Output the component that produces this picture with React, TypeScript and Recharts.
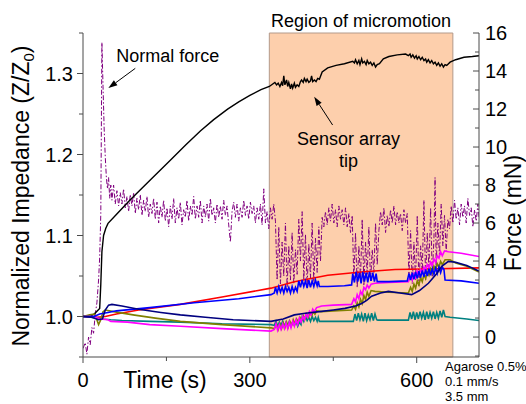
import React from "react";
import { LineChart, Line, XAxis, YAxis, ReferenceArea, ReferenceLine } from "recharts";

type Pt = [number, number];

// axis ticks (minor ticks are drawn without a label)
const timeTicks = [0, 150, 300, 450, 600];
const timeLabeled = [0, 300, 600];
const impTicks = [0.95, 1.0, 1.05, 1.1, 1.15, 1.2, 1.25, 1.3, 1.35];
const impLabeled = [1.0, 1.1, 1.2, 1.3];
const forceTicks = [-1, 0, 1, 2, 3, 4, 5, 6, 7, 8, 9, 10, 11, 12, 13, 14, 15, 16];
const forceLabeled = [0, 2, 4, 6, 8, 10, 12, 14, 16];

const regionStart = 335;
const regionEnd = 665;

// normal force (mN), right axis
const normalForce: Pt[] = [
  [0, -0.6], [4, -0.3], [7, -0.9], [10, 0.0], [13, -0.4], [16, 0.5], [19, 0.2], [22, 1.2], [25, 1.8], [28, 3.0], [30, 4.2], [32, 6.5],
  [34, 15.5], [36, 13.2], [38, 11.0], [40, 9.5], [42, 8.4], [44, 7.8], [46, 8.4], [48, 7.3], [50, 8.0],
  [52, 7.2], [55, 8.0], [58, 7.0], [61, 7.7], [64, 6.9], [67, 7.6], [70, 7.0], [73, 7.8], [76, 6.8], [79, 7.4], [82, 6.6], [85, 7.5],
  [88, 6.9], [91, 7.6], [94, 6.5], [97, 7.3], [100, 6.7], [103, 7.5], [106, 6.4], [109, 7.2], [112, 6.6], [115, 7.4], [118, 6.3],
  [121, 7.0], [124, 6.5], [127, 7.3], [130, 6.2], [133, 7.1], [136, 6.0], [139, 6.9], [142, 6.3], [145, 7.2], [148, 6.1], [151, 6.8],
  [154, 5.8], [157, 6.9], [160, 6.2], [163, 7.3], [166, 6.0], [169, 6.8], [172, 6.2], [175, 7.1], [178, 5.9], [181, 6.7], [184, 6.3],
  [187, 7.2], [190, 6.1], [193, 6.9], [196, 6.4], [199, 7.4], [202, 6.2], [205, 6.9], [208, 6.3], [211, 7.2], [214, 6.0], [217, 6.9],
  [220, 6.3], [223, 7.0], [226, 6.1], [229, 7.3], [232, 6.4], [235, 6.8], [238, 6.0], [241, 7.0], [244, 6.3], [247, 6.9], [250, 6.2],
  [253, 7.2], [256, 6.4], [259, 6.9], [262, 5.9], [265, 5.0], [268, 6.6], [271, 7.1], [274, 6.3], [277, 7.0], [280, 6.1], [283, 6.8],
  [286, 6.3], [289, 7.2], [292, 6.4], [295, 6.9], [298, 6.2], [301, 7.1], [304, 6.5], [307, 6.9], [310, 6.0], [313, 6.8], [316, 6.2],
  [319, 7.0], [322, 5.9], [325, 7.8], [328, 6.0], [331, 6.6], [334, 5.7], [337, 6.8], [340, 6.2], [343, 7.0], [346, 6.1],
  [349, 3.0], [352, 5.8], [355, 2.8], [358, 5.0], [361, 3.2], [364, 6.0], [367, 2.6], [370, 4.8], [373, 3.0], [376, 5.5], [379, 2.8],
  [382, 4.6], [385, 3.3], [388, 6.2], [391, 4.0], [394, 6.6], [397, 3.0], [400, 5.4], [403, 2.7], [406, 4.9], [409, 3.1], [412, 6.0],
  [415, 2.9], [418, 5.2], [421, 3.4], [424, 5.8], [427, 4.0], [430, 6.3],
  [433, 5.8], [436, 6.6], [439, 5.9], [442, 6.8], [445, 6.1], [448, 7.0], [451, 6.0], [454, 6.7], [457, 5.8], [460, 6.9], [463, 6.2],
  [466, 6.7], [469, 5.9], [472, 6.8], [475, 5.8], [478, 6.5], [481, 5.5], [484, 6.4],
  [487, 3.0], [490, 5.5], [493, 2.6], [496, 4.8], [499, 3.1], [502, 6.2], [505, 2.7], [508, 5.0], [511, 3.3], [514, 5.8], [517, 2.9],
  [520, 4.6], [523, 3.4], [526, 6.0], [529, 3.8], [532, 5.6],
  [535, 6.6], [538, 5.9], [541, 6.8], [544, 5.5], [547, 6.4], [550, 5.8], [553, 6.7], [556, 6.0], [559, 6.9], [562, 5.9], [565, 6.6],
  [568, 6.0], [571, 6.5], [574, 5.6], [577, 6.7], [580, 6.0], [583, 6.5],
  [586, 3.2], [589, 5.6], [592, 2.8], [595, 5.0], [598, 3.0], [601, 6.4], [604, 2.7], [607, 4.8], [610, 3.4], [613, 7.2], [616, 3.0],
  [619, 5.5], [622, 3.6], [625, 6.8], [628, 3.2], [631, 5.2], [633, 8.4], [635, 3.8], [638, 6.0], [641, 4.2], [644, 7.0], [647, 4.8],
  [650, 6.4], [653, 4.5], [656, 6.2],
  [659, 5.7], [662, 6.9], [665, 6.0], [668, 7.2], [671, 6.2], [674, 6.8], [677, 5.9], [680, 7.0], [683, 6.3], [686, 6.9], [689, 6.0],
  [692, 7.3], [695, 6.4], [698, 6.8], [701, 5.8], [704, 6.7], [707, 6.1], [710, 7.0], [712, 6.3],
];

// sensor array tip impedance (Z/Z0), left axis
const tipImp: Pt[] = [
  [0, 1.0], [12, 1.0], [20, 1.003], [26, 1.007], [30, 1.01], [32, 1.04], [34, 1.08], [37, 1.1], [41, 1.109], [45, 1.115],
  [60, 1.126], [85, 1.144], [120, 1.168], [157, 1.193], [185, 1.212], [211, 1.229], [235, 1.243], [260, 1.256], [280, 1.265],
  [300, 1.273], [320, 1.28], [335, 1.284], [345, 1.289], [348, 1.286], [351, 1.288], [354, 1.284], [357, 1.289], [359, 1.285],
  [361, 1.297], [363, 1.286], [366, 1.292], [368, 1.284], [370, 1.289], [373, 1.281], [375, 1.287], [377, 1.282], [380, 1.288],
  [382, 1.283], [385, 1.286], [388, 1.284], [391, 1.29], [393, 1.292], [396, 1.289], [398, 1.294], [401, 1.29], [403, 1.293],
  [406, 1.289], [409, 1.291], [411, 1.297], [413, 1.29], [416, 1.292], [419, 1.29], [422, 1.294], [425, 1.293], [430, 1.302],
  [440, 1.307], [455, 1.31], [470, 1.312], [485, 1.315], [488, 1.313], [490, 1.317], [493, 1.312], [496, 1.316], [498, 1.311],
  [501, 1.318], [503, 1.313], [506, 1.315], [509, 1.311], [511, 1.316], [514, 1.312], [517, 1.314], [520, 1.31], [523, 1.313],
  [526, 1.308], [529, 1.311], [533, 1.312], [540, 1.318], [550, 1.321], [565, 1.323], [580, 1.324], [585, 1.322], [588, 1.324],
  [590, 1.32], [593, 1.323], [596, 1.319], [599, 1.322], [601, 1.318], [604, 1.321], [607, 1.317], [610, 1.32], [613, 1.316],
  [616, 1.318], [618, 1.314], [621, 1.317], [624, 1.313], [627, 1.316], [630, 1.312], [633, 1.314], [636, 1.31], [639, 1.313],
  [642, 1.309], [645, 1.312], [648, 1.308], [651, 1.311], [654, 1.31], [660, 1.314], [670, 1.317], [685, 1.32], [700, 1.321],
  [712, 1.322],
];

const redImp: Pt[] = [
  [0, 1.0], [25, 0.999], [40, 1.0], [60, 1.003], [100, 1.008], [175, 1.015], [250, 1.024], [338, 1.035], [380, 1.043],
  [440, 1.051], [500, 1.055], [561, 1.058], [640, 1.059], [712, 1.06],
];

const blueImp: Pt[] = [
  [0, 1.0], [20, 1.0], [30, 1.003], [45, 1.005], [60, 1.007], [120, 1.011], [200, 1.017], [280, 1.022], [338, 1.027], [344, 1.029],
  [346, 1.036], [349, 1.029], [352, 1.037], [355, 1.03], [358, 1.036], [361, 1.029], [364, 1.037], [367, 1.031], [370, 1.036],
  [373, 1.029], [376, 1.037], [379, 1.03], [382, 1.036], [385, 1.031], [388, 1.044], [391, 1.036], [394, 1.045], [397, 1.037],
  [400, 1.044], [403, 1.035], [406, 1.045], [409, 1.036], [412, 1.044], [415, 1.037], [418, 1.045], [421, 1.038], [423, 1.044],
  [425, 1.037], [440, 1.037], [470, 1.038], [483, 1.039], [485, 1.053], [488, 1.042], [491, 1.055], [494, 1.043], [497, 1.054],
  [500, 1.041], [503, 1.055], [506, 1.043], [509, 1.054], [512, 1.042], [515, 1.055], [518, 1.044], [521, 1.054], [524, 1.043],
  [527, 1.053], [529, 1.043], [550, 1.043], [583, 1.044], [586, 1.053], [589, 1.045], [592, 1.054], [595, 1.046], [598, 1.055],
  [601, 1.047], [604, 1.056], [607, 1.048], [610, 1.057], [613, 1.049], [616, 1.058], [619, 1.05], [622, 1.059], [625, 1.051],
  [628, 1.059], [631, 1.052], [634, 1.06], [637, 1.053], [640, 1.061], [643, 1.054], [646, 1.061], [649, 1.058], [651, 1.045],
  [680, 1.044], [712, 1.041],
];

const tealImp: Pt[] = [
  [0, 1.0], [20, 0.999], [35, 0.997], [50, 0.996], [70, 0.995], [120, 0.994], [175, 0.993], [250, 0.991], [338, 0.99], [344, 0.989],
  [347, 0.994], [350, 0.988], [353, 0.993], [356, 0.989], [359, 0.994], [362, 0.988], [365, 0.993], [368, 0.989], [371, 0.994],
  [374, 0.988], [377, 0.993], [380, 0.989], [383, 0.994], [386, 0.988], [389, 0.993], [392, 0.99], [394, 0.999], [397, 0.994],
  [400, 1.0], [403, 0.995], [406, 0.999], [409, 0.994], [412, 1.0], [415, 0.995], [418, 0.999], [421, 0.994], [423, 0.999],
  [425, 0.994], [450, 0.994], [486, 0.994], [489, 1.003], [492, 0.995], [495, 1.004], [498, 0.996], [501, 1.003], [504, 0.994],
  [507, 1.004], [510, 0.995], [513, 1.002], [516, 0.996], [519, 1.004], [522, 0.995], [525, 1.003], [528, 0.996], [530, 0.9955],
  [585, 0.9955], [588, 1.005], [591, 0.997], [594, 1.006], [597, 0.996], [600, 1.005], [603, 0.997], [606, 1.006], [609, 0.998],
  [612, 1.005], [615, 0.996], [618, 1.006], [621, 0.997], [624, 1.005], [627, 0.998], [630, 1.006], [633, 0.997], [636, 1.005],
  [639, 0.998], [642, 1.007], [645, 0.999], [648, 1.008], [651, 1.0], [660, 0.999], [690, 0.997], [712, 0.995],
];

const oliveImp: Pt[] = [
  [0, 1.0], [12, 1.002], [20, 1.003], [24, 0.998], [28, 0.99], [32, 0.996], [36, 1.006], [40, 1.008], [55, 1.006], [90, 1.002],
  [130, 0.998], [175, 0.994], [250, 0.99], [338, 0.986], [344, 0.985], [348, 0.99], [351, 0.984], [354, 0.991], [357, 0.985],
  [360, 0.992], [363, 0.986], [366, 0.993], [369, 0.987], [372, 0.994], [375, 0.989], [378, 0.996], [381, 0.991], [384, 0.997],
  [387, 0.993], [390, 0.999], [393, 0.995], [396, 1.001], [399, 0.997], [402, 1.003], [405, 0.999], [408, 1.005], [411, 1.001],
  [414, 1.006], [417, 1.003], [420, 1.007], [428, 1.006], [450, 1.007], [483, 1.008], [487, 1.013], [490, 1.009], [493, 1.017],
  [496, 1.012], [499, 1.021], [502, 1.016], [505, 1.026], [508, 1.021], [511, 1.03], [514, 1.025], [518, 1.032], [525, 1.031],
  [550, 1.03], [585, 1.029], [589, 1.036], [592, 1.031], [595, 1.04], [598, 1.035], [601, 1.044], [604, 1.039], [607, 1.048],
  [610, 1.043], [613, 1.052], [616, 1.047], [619, 1.055], [622, 1.051], [625, 1.059], [628, 1.054], [631, 1.062], [634, 1.058],
  [637, 1.065], [640, 1.061], [643, 1.068], [646, 1.064], [651, 1.07], [660, 1.07], [670, 1.066], [690, 1.062], [712, 1.055],
];

const magentaImp: Pt[] = [
  [0, 1.0], [20, 1.0], [30, 0.997], [45, 0.996], [50, 0.994], [80, 0.993], [120, 0.99], [175, 0.988], [250, 0.985], [338, 0.982],
  [344, 0.984], [347, 0.991], [350, 0.983], [353, 0.99], [356, 0.984], [359, 0.991], [362, 0.985], [365, 0.992], [368, 0.985],
  [371, 0.993], [374, 0.986], [377, 0.994], [380, 0.988], [383, 0.996], [386, 0.99], [389, 0.998], [392, 0.993], [395, 1.0],
  [398, 0.996], [401, 1.003], [404, 0.999], [407, 1.006], [410, 1.002], [413, 1.009], [416, 1.006], [420, 1.011], [425, 1.012],
  [429, 1.013], [450, 1.014], [483, 1.015], [487, 1.022], [490, 1.018], [493, 1.027], [496, 1.022], [499, 1.031], [502, 1.027],
  [505, 1.036], [508, 1.033], [511, 1.039], [514, 1.035], [518, 1.04], [525, 1.041], [550, 1.042], [585, 1.043], [589, 1.05],
  [592, 1.045], [595, 1.053], [598, 1.048], [601, 1.056], [604, 1.051], [607, 1.058], [610, 1.054], [613, 1.061], [616, 1.057],
  [619, 1.064], [622, 1.06], [625, 1.067], [628, 1.063], [631, 1.071], [634, 1.067], [637, 1.075], [640, 1.072], [643, 1.08],
  [646, 1.075], [650, 1.081], [657, 1.08], [680, 1.078], [712, 1.074],
];

const navyImp: Pt[] = [
  [0, 1.0], [15, 0.999], [28, 0.996], [35, 0.997], [40, 1.008], [46, 1.014], [52, 1.015], [70, 1.013], [100, 1.009], [140, 1.005],
  [175, 1.002], [220, 0.999], [270, 0.996], [338, 0.994], [360, 0.997], [380, 1.002], [400, 1.004], [425, 1.006], [450, 1.008],
  [471, 1.01], [490, 1.013], [501, 1.016], [510, 1.02], [519, 1.025], [535, 1.029], [549, 1.031], [570, 1.029], [591, 1.027],
  [605, 1.032], [621, 1.041], [635, 1.052], [645, 1.062], [657, 1.068], [670, 1.067], [690, 1.063], [712, 1.056],
];

const FONT = "'Liberation Sans', Arial, sans-serif";
const AXIS = "#4a4a4a";
const PLOT = { left: 83, right: 479, top: 33, bottom: 357 };

const rows = (pts: Pt[]) => pts.map(([t, v]) => ({ t, v }));
const isIn = (list: number[], v: number) => list.some((m) => Math.abs(m - v) < 1e-6);

const TimeTick = (props: any) => {
  const { x, payload } = props;
  const major = isIn(timeLabeled, payload.value);
  return (
    <g>
      <line x1={x} x2={x} y1={PLOT.bottom} y2={PLOT.bottom + (major ? 6 : 4)} stroke={AXIS} />
      {major && (
        <text x={x} y={387} textAnchor="middle" fontSize={20} fontFamily={FONT} fill="#000">
          {payload.value}
        </text>
      )}
    </g>
  );
};

const ImpTick = (props: any) => {
  const { y, payload } = props;
  const major = isIn(impLabeled, payload.value);
  return (
    <g>
      <line x1={PLOT.left - (major ? 6 : 4)} x2={PLOT.left} y1={y} y2={y} stroke={AXIS} />
      {major && (
        <text x={PLOT.left - 10} y={y + 7} textAnchor="end" fontSize={20} fontFamily={FONT} fill="#000">
          {payload.value.toFixed(1)}
        </text>
      )}
    </g>
  );
};

const ForceTick = (props: any) => {
  const { y, payload } = props;
  const major = isIn(forceLabeled, payload.value);
  return (
    <g>
      <line x1={PLOT.right - (major ? 6 : 4)} x2={PLOT.right} y1={y} y2={y} stroke={AXIS} />
      {major && (
        <text x={PLOT.right + 6} y={y + 7} textAnchor="start" fontSize={20} fontFamily={FONT} fill="#000">
          {payload.value}
        </text>
      )}
    </g>
  );
};

// line with a filled arrow head at its second point, plus a text block near the tail
const arrowWith = (lines: string[], dx: number, dy: number, anchor: "start" | "middle") => (p: any) => {
  const { x1, y1, x2, y2 } = p;
  const ang = Math.atan2(y2 - y1, x2 - x1);
  const len = 9;
  const w = 3;
  const bx = x2 - len * Math.cos(ang);
  const by = y2 - len * Math.sin(ang);
  const nx = -Math.sin(ang) * w;
  const ny = Math.cos(ang) * w;
  return (
    <g>
      <line x1={x1} y1={y1} x2={bx} y2={by} stroke="#000" strokeWidth={1} />
      <polygon points={`${x2},${y2} ${bx + nx},${by + ny} ${bx - nx},${by - ny}`} fill="#000" />
      {lines.map((s, i) => (
        <text key={s} x={x1 + dx} y={y1 + dy + i * 22} textAnchor={anchor} fontSize={18} fontFamily={FONT} fill="#000">
          {s}
        </text>
      ))}
    </g>
  );
};

export default function App() {
  return (
    <div style={{ position: "absolute", left: 0, top: 0, width: 526, height: 404, background: "#fff" }}>
      <LineChart width={526} height={404} margin={{ top: PLOT.top, right: 0, bottom: 0, left: 0 }}>
        <XAxis
          xAxisId={0}
          dataKey="t"
          type="number"
          domain={[0, 712]}
          ticks={timeTicks}
          interval={0}
          allowDataOverflow
          height={404 - PLOT.bottom}
          stroke={AXIS}
          tickLine={false}
          tick={<TimeTick />}
          label={{
            content: () => (
              <g fontFamily={FONT} fill="#000">
                <text x={165} y={388} textAnchor="middle" fontSize={23}>Time (s)</text>
                <text x={445} y={371} fontSize={13}>Agarose 0.5%</text>
                <text x={445} y={386} fontSize={13}>0.1 mm/s</text>
                <text x={445} y={401} fontSize={13}>3.5 mm</text>
              </g>
            ),
          }}
        />
        <YAxis
          yAxisId="imp"
          type="number"
          domain={[0.95, 1.35]}
          ticks={impTicks}
          interval={0}
          allowDataOverflow
          width={PLOT.left}
          stroke={AXIS}
          tickLine={false}
          tick={<ImpTick />}
          label={{
            content: () => (
              <text
                x={29}
                y={196}
                transform="rotate(-90 29 196)"
                textAnchor="middle"
                fontSize={23}
                fontFamily={FONT}
                fill="#000"
              >
                Normalized Impedance (Z/Z
                <tspan dy={5} fontSize={15}>0</tspan>
                <tspan dy={-5}>)</tspan>
              </text>
            ),
          }}
        />
        <YAxis
          yAxisId="force"
          orientation="right"
          type="number"
          domain={[-1.05, 16]}
          ticks={forceTicks}
          interval={0}
          allowDataOverflow
          width={526 - PLOT.right}
          stroke={AXIS}
          tickLine={false}
          tick={<ForceTick />}
          label={{
            content: () => (
              <text
                x={521}
                y={213}
                transform="rotate(-90 521 213)"
                textAnchor="middle"
                fontSize={23}
                fontFamily={FONT}
                fill="#000"
              >
                Force (mN)
              </text>
            ),
          }}
        />

        <ReferenceArea
          yAxisId="imp"
          x1={regionStart}
          x2={regionEnd}
          fill="#fdcfac"
          fillOpacity={1}
          stroke="#b39a8a"
          strokeWidth={1}
          label={{
            content: (p: any) => (
              <text
                x={p.viewBox.x + p.viewBox.width / 2}
                y={p.viewBox.y - 6}
                textAnchor="middle"
                fontSize={18}
                fontFamily={FONT}
                fill="#000"
              >
                Region of micromotion
              </text>
            ),
          }}
        />

        <Line yAxisId="force" data={rows(normalForce)} dataKey="v" stroke="#800080" strokeWidth={1} strokeDasharray="5 2 1.5 2" dot={false} isAnimationActive={false} />
        <Line yAxisId="imp" data={rows(tipImp)} dataKey="v" stroke="#000" strokeWidth={1.4} dot={false} isAnimationActive={false} />
        <Line yAxisId="imp" data={rows(redImp)} dataKey="v" stroke="#ff0000" strokeWidth={1.6} dot={false} isAnimationActive={false} />
        <Line yAxisId="imp" data={rows(tealImp)} dataKey="v" stroke="#008080" strokeWidth={1.6} dot={false} isAnimationActive={false} />
        <Line yAxisId="imp" data={rows(oliveImp)} dataKey="v" stroke="#808000" strokeWidth={1.6} dot={false} isAnimationActive={false} />
        <Line yAxisId="imp" data={rows(magentaImp)} dataKey="v" stroke="#ff00ff" strokeWidth={1.6} dot={false} isAnimationActive={false} />
        <Line yAxisId="imp" data={rows(blueImp)} dataKey="v" stroke="#0000ff" strokeWidth={1.6} dot={false} isAnimationActive={false} />
        <Line yAxisId="imp" data={rows(navyImp)} dataKey="v" stroke="#000080" strokeWidth={1.6} dot={false} isAnimationActive={false} />

        <ReferenceLine
          yAxisId="force"
          segment={[{ x: 94, y: 14.14 }, { x: 45.7, y: 13.1 }]}
          shape={arrowWith(["Normal force"], -19, -6, "start")}
        />
        <ReferenceLine
          yAxisId="imp"
          segment={[{ x: 448.8, y: 1.2364 }, { x: 415.7, y: 1.2713 }]}
          shape={arrowWith(["Sensor array", "tip"], 16, 20, "middle")}
        />
      </LineChart>
    </div>
  );
}
